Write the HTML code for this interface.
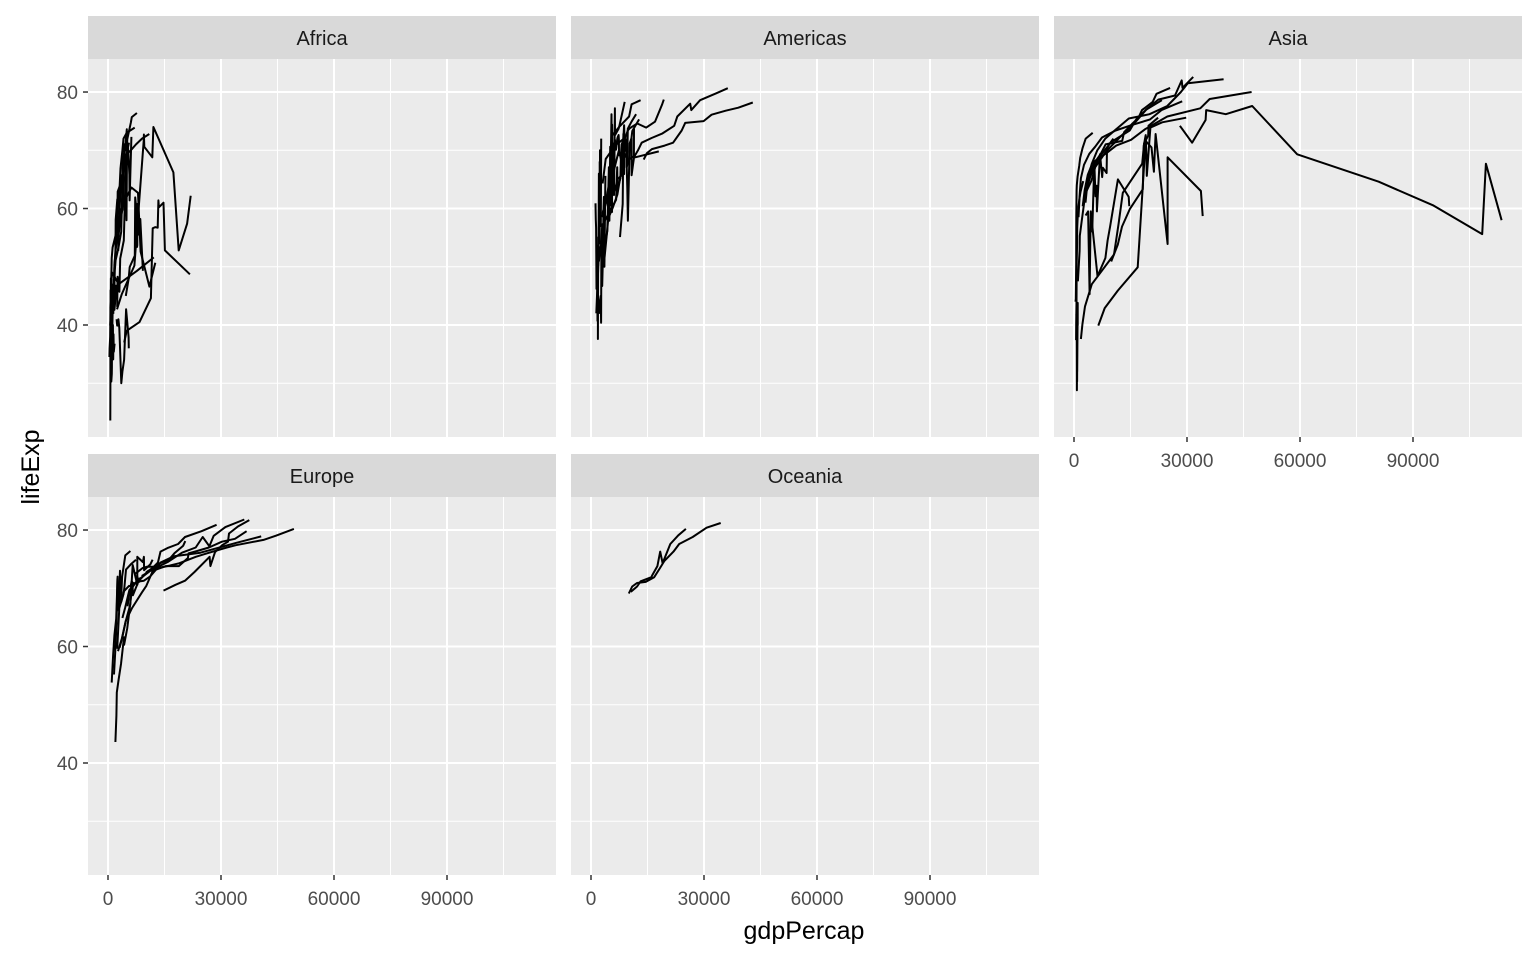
<!DOCTYPE html>
<html><head><meta charset="utf-8">
<style>
html,body{margin:0;padding:0;background:#fff;}
svg{display:block;font-family:"Liberation Sans",Arial,sans-serif;}
</style></head>
<body>
<svg id="chart" width="1536" height="960" viewBox="0 0 1536 960"></svg>
<script>
const years=[1952,1957,1962,1967,1972,1977,1982,1987,1992,1997,2002,2007];
const continents=["Africa","Americas","Asia","Europe","Oceania"];
const xTicks=[0,30000,60000,90000];
const xTickLabels=["0","30000","60000","90000"];
const yTicks=[40,60,80];
const yTickLabels=["40","60","80"];
const africaGdp=[
[2388,3668,6999,18773,21011,21951,17364,11770,9641,9467,9535,12057],
[4293,4977,8358,11401,21746,15113,11864,13522,13377,14723,12522,13206],
[4725,5487,5768,7115,7766,8028,8568,7826,7225,7479,7711,9270],
[851,918,984,1215,2264,3215,4551,6205,7954,8647,11004,12570],
[1968,2034,2529,2475,2576,3711,4110,4455,6058,7425,9022,10957],
[1468,1395,1661,1932,2149,2589,3108,3329,3822,4124,4960,7093],
[2719,2770,3174,4022,4022,4101,4991,5112,4983,6071,6316,7670],
[2449,3014,2551,3247,4183,4910,5745,5681,5023,4797,5288,6223],
[1419,1459,1693,1815,2024,2785,3504,3885,3795,4173,4755,5581],
[376,427,582,915,673,958,927,966,1132,2814,7703,12154],
[1077,1101,1151,1015,1698,1982,1577,1385,1620,1625,1615,2014],
[880,1004,1035,1384,1533,1749,1465,1295,1068,574,699,863],
[1688,1643,1566,1712,2057,2556,3056,3820,3554,3866,4218,4411],
[3521,3828,4269,5523,5473,3009,2757,2430,2628,2277,2773,4797],
[600,650,700,720,750,800,780,760,700,650,680,700]];
const africaLife=[
[42.7,45.3,50.2,52.8,57.4,62.2,66.2,68.8,70.6,71.6,72.7,74],
[37,39,40.5,44.6,48.7,52.8,56.6,60.2,61.4,61,56.8,56.7],
[45,48,49.95,51.9,53.7,55.5,58.2,60.8,61.9,60.2,53.4,49.3],
[47.6,49.6,51.5,53.3,56,59.3,61.5,63.6,62.7,52.6,46.6,50.7],
[51,58.1,60.2,61.6,62.9,64.9,66.7,69,70,71,72,72.8],
[44.6,47.1,49.6,52.1,55.6,59.8,64,66.9,70,72,73,73.9],
[52.7,55.1,57.7,60.5,64.3,67.1,69.9,71.9,73.6,74.8,75.7,76.4],
[43.1,45.7,48.3,51.4,54.5,58,61.4,65.8,67.7,69.2,71,72.3],
[41.9,44.4,47,49.3,51.1,53.3,56,59.8,63.7,66,68.8,71.3],
[34.5,36,38,40,42,44,46,48,49,47,49.3,51.6],
[36.3,37.8,39.4,41,42.6,44.5,45.8,46.9,47.5,47.5,46.6,46.9],
[30.3,31.6,32.8,34.1,35.4,36.8,38.4,40,38.3,39.9,41,42.6],
[42.9,45,47.9,50.3,52.9,55.7,59.6,62.7,65.7,67.7,69.6,71.2],
[30,32,34,36,37.9,39.5,39.9,39.9,40.6,41,41,42.7],
[23.6,30,35,38,42,45,47,48,46,43,44,45]];
const americasGdp=[
[13990,14847,16173,19530,21806,24073,25010,29884,32004,35767,39097,42952],
[11367,12490,13462,16077,18971,22091,22899,26627,26343,28955,33329,36319],
[3082,3908,5108,6929,9124,9770,10331,12282,14642,16999,18856,19329],
[3023,4101,4998,5622,8793,9748,11766,7555,7389,8793,11461,18009],
[7690,9803,8423,9646,10767,11152,11389,9384,10263,10766,8606,11416],
[5911,6857,7133,8053,9443,10079,8998,9140,9308,10967,8798,12779],
[3478,4132,4582,5755,7012,7675,9611,8688,9472,9767,10742,11978],
[1840,1726,1797,1452,1655,1874,2011,1823,1456,1342,1270,1202],
[2677,2128,2181,2587,2980,3548,3157,2754,2962,3326,3413,3822],
[2109,2487,3337,3430,4986,6660,7031,7807,6950,7958,8131,9066],
[3940,4316,4886,5107,5494,4757,5096,5547,7597,10118,10779,13172],
[2899,4756,5246,6125,7434,6650,6069,6351,7405,7122,6994,7321],
[5587,6093,5181,5691,5305,6381,7317,7533,5593,5432,6341,8948],
[1400,1600,1800,2000,2300,2600,2400,2200,2100,2300,2400,2700]];
const americasLife=[
[68.4,69.5,70.2,70.8,71.3,73.4,74.7,75,76.1,76.8,77.3,78.2],
[68.75,70,71.3,72.1,72.9,74.2,75.8,76.9,78,78.6,79.8,80.65],
[64.3,68.5,69.6,71.1,72.2,73.4,73.8,74.6,73.9,74.9,77.8,78.7],
[59.1,61.8,64.9,65.4,65.9,68.3,68.8,69.6,69.9,69.5,69,69.8],
[55.1,57.9,60.8,63.5,65.7,67.5,68.6,69.9,71.2,72.1,72.8,73.7],
[62.5,64.4,65.1,65.6,67.1,68.5,69.9,70.8,71.9,73.3,74.3,75.3],
[50.8,55.2,58.3,60.1,62.4,65,67.4,69.5,71.5,73.7,74.9,76.2],
[37.6,40.7,43.6,46.2,48,49.9,51.5,53.6,55.1,56.7,58.1,60.9],
[40.4,41.9,43.4,45,46.7,50,51.5,53.9,57.3,59.9,62,65.6],
[50.9,53.3,55.7,57.6,59.5,61.5,63.3,65.2,67.1,69.4,71,72.4],
[54.7,56.1,57.9,60.5,63.4,67.1,70.6,72.5,74.1,75.8,77.9,78.6],
[58.5,62.6,65.6,67.5,69,70.1,71.2,71.8,71.8,72.3,72,72.6],
[59.4,62.3,65.2,68.3,70.7,72.6,73.7,74.2,74.4,76.2,77.2,78.3],
[42,45,48,51,54,57,60,63,66,68,70,72]];
const asiaGdp=[
[108382,113523,95458,80895,109348,59265,31354,28118,34932,40301,35110,47307],
[6459,8157,11626,16903,24837,34168,33693,21199,24841,20586,19014,21655],
[9867,11636,12753,14805,18269,19340,19211,18524,19036,20292,23404,29796],
[3217,4318,6577,9847,14779,16610,19384,22376,26825,28817,28605,31656],
[2315,2844,3675,4977,8597,11210,15169,18862,24769,33519,36023,47143],
[3054,3629,4693,6198,8316,11187,14561,20038,24758,28378,30209,39725],
[4086,5385,7105,8393,12786,13306,15367,17122,18051,20897,21905,25523],
[1207,1507,1822,2643,4062,5597,7426,11054,15215,20206,23235,28718],
[1031,1487,1536,2029,3030,4657,5623,8533,12104,15993,19234,23348],
[400,576,488,613,677,741,962,1378,1656,2289,3119,4959],
[547,590,658,700,724,813,856,977,1164,1458,1747,2452],
[779,821,853,836,740,786,978,852,649,635,727,975],
[4130,6229,8342,8931,9576,14688,14517,11643,3745,3076,4391,4471],
[1828,2243,2925,4720,10618,11848,12955,18115,18616,19702,19775,22316],
[4834,6089,5714,6006,7487,8660,7641,5377,6891,8755,9313,10461]];
const asiaLife=[
[55.6,58,60.5,64.6,67.7,69.3,71.3,74.2,75.2,76.2,76.9,77.6],
[39.9,42.9,45.9,49.9,53.9,58.7,63,66.3,68.8,70.5,71.6,72.8],
[50.9,53.8,56.9,59.9,63.3,65.6,69.1,70.8,72.6,73.9,74.8,75.6],
[63,65.5,68.7,71.4,73.4,75.4,77.1,78.7,79.4,80.7,82,82.6],
[60.4,63.2,65.8,67.9,69.5,70.8,71.8,73.6,75.8,77.2,78.8,80],
[61,64.75,67.65,70,72,73.6,75.45,76.2,77.6,80,81.5,82.2],
[65.4,67.8,69.4,71,71.6,73.1,74.5,75.6,76.9,78.3,79.7,80.7],
[58.5,62.4,65.2,67.5,69.4,70.6,72.2,73.4,74.3,75.3,76.9,78.4],
[47.5,52.7,55.3,57.7,62.6,64.8,67.1,69.8,72.2,74.6,77,78.6],
[44,50.5,44.5,58.4,63.1,64,65.5,67.3,68.7,70.4,72,73],
[37.4,40.2,43.6,47.2,50.7,54.2,56.6,58.6,60.2,61.8,62.9,64.7],
[28.8,30.3,32,34,36.1,38.4,39.9,40.8,41.7,41.8,42.1,43.8],
[45.3,48.4,51.5,54.5,56.9,60.4,62,65,59.5,58.8,57,59.5],
[37.6,40.1,43.2,47,52.1,57.4,62.7,67.7,71.2,72.5,74.2,75.6],
[55.9,59.5,62.1,63.9,65.4,66.1,67,67.9,69.3,70.3,71,72]];
const europeGdp=[
[10095,11654,13450,16362,18965,23311,26299,31541,33966,41283,44684,49357],
[14734,17909,20431,22966,27195,26982,28398,30282,31871,32135,34481,37506],
[8942,11277,12791,15364,18795,21209,21399,23651,26791,30246,33725,36798],
[5210,5599,6632,7453,9531,11151,12618,13873,17559,24522,34077,40676],
[3068,3775,4727,6361,9022,10172,11754,13039,16207,17641,19971,20510],
[1969,2218,2323,2826,3450,4269,4241,5089,5678,6601,6508,8458],
[1601,1942,2313,2760,3313,3533,3631,3739,2497,3193,4604,5937],
[974,1354,1710,2172,2860,3528,4127,4314,2547,4766,6019,7446],
[7268,9244,10350,13320,15798,19655,23270,26923,25144,28061,31163,36181],
[3834,4565,5694,7994,10639,13237,13926,15765,18603,20446,24835,28821],
[2444,3009,4255,5578,6598,7612,8225,8240,6303,5970,7697,10681],
[2648,3683,4650,5907,7779,9596,11233,11837,7783,9531,6557,9254]];
const europeLife=[
[72.7,73.4,73.5,73.9,74.3,75.4,76,77,77.4,78.3,79.05,80.2],
[69.6,70.6,71.3,72.8,73.8,75.4,76.2,77.4,78,79.4,80.6,81.7],
[72.1,73,73.2,73.8,73.8,75.2,76,76.4,77,78,78.5,79.8],
[66.9,68.9,70.3,71.1,71.3,72,73.1,74.4,75.5,76.1,77.8,78.9],
[59.8,61.5,64.4,66.6,69.3,70.4,72.8,74.1,74.9,76,77.3,78.1],
[43.6,48.1,52.1,54.3,57,60.3,61.6,63.1,66.1,68.8,70.8,71.8],
[55.2,59.3,64.8,66.2,67.7,68.9,70.4,72,71.6,73,75.65,76.4],
[53.8,58.45,61.9,64.8,66.7,67.7,69,70,72,73.2,74.1,74.9],
[72.5,73.5,73.7,73.7,74.5,76.1,77,77.2,78.8,79,80.5,81.8],
[64.9,66.7,69.7,71.4,72.7,74.4,76.3,76.9,77.6,78.8,79.8,80.9],
[59.6,66.6,69.5,70.4,70.9,70.8,71.1,71.3,71.2,70.3,72.1,73],
[59.2,61.4,64.2,67.2,70.6,73.1,74.1,74.9,75.4,75.4,74,74.5]];
const oceaniaGdp=[
[10040,10950,12217,14526,16789,18334,19477,21889,23425,26998,30688,34435],
[10557,12247,13176,14464,16046,16234,17632,19007,18363,21050,23189,25185]];
const oceaniaLife=[
[69.1,70.3,70.9,71.1,71.9,73.5,74.7,76.3,77.6,78.8,80.4,81.2],
[69.4,70.3,71.2,71.5,71.9,72.2,73.8,74.3,76.3,77.6,79.1,80.2]];
const gdpSets=[africaGdp,americasGdp,asiaGdp,europeGdp,oceaniaGdp];
const lifeSets=[africaLife,americasLife,asiaLife,europeLife,oceaniaLife];

const NS="http://www.w3.org/2000/svg";
const svg=document.getElementById('chart');
function mk(tag,attrs,parent){const e=document.createElementNS(NS,tag);for(const k in attrs)e.setAttribute(k,attrs[k]);(parent||svg).appendChild(e);return e;}
const panelW=468, stripH=43, plotH=378;
const panelX=[88,571,1054];
const rowY=[16,454];
const xMin=-5310, xMax=118937, yMin=20.77, yMax=85.67;
function xs(v,px){return px+(v-xMin)/(xMax-xMin)*panelW;}
function ys(v,py){return py+plotH-(v-yMin)/(yMax-yMin)*plotH;}

continents.forEach((c,i)=>{
  const col=i%3,row=Math.floor(i/3);
  const px=panelX[col], sy=rowY[row], py=sy+stripH;
  const g=mk('g',{});
  
  
  const strip=mk('rect',{x:px,y:sy,width:panelW,height:stripH,fill:'#d9d9d9'},g);
  
  
  const st=mk('text',{x:px+panelW/2,y:sy+29,'text-anchor':'middle','font-size':'20',fill:'#1a1a1a'},g);
  st.textContent=c;
  
  
  const bg=mk('rect',{x:px,y:py,width:panelW,height:plotH,fill:'#ebebeb'},g);
  
  
  [15000,45000,75000,105000].forEach(v=>mk('line',{x1:xs(v,px),x2:xs(v,px),y1:py,y2:py+plotH,stroke:'#fff','stroke-width':1},g));
  [30,50,70].forEach(v=>mk('line',{x1:px,x2:px+panelW,y1:ys(v,py),y2:ys(v,py),stroke:'#fff','stroke-width':1},g));
  xTicks.forEach(v=>mk('line',{x1:xs(v,px),x2:xs(v,px),y1:py,y2:py+plotH,stroke:'#fff','stroke-width':2},g));
  yTicks.forEach(v=>mk('line',{x1:px,x2:px+panelW,y1:ys(v,py),y2:ys(v,py),stroke:'#fff','stroke-width':2},g));
  gdpSets[i].forEach((gs,k)=>{
    const ls=lifeSets[i][k];
    const pairs=gs.map((v,j)=>[v,ls[j]]).sort((a,b)=>a[0]-b[0]);
    const pts=pairs.map(p=>xs(p[0],px).toFixed(1)+','+ys(p[1],py).toFixed(1)).join(' ');
    const pl=mk('polyline',{points:pts,fill:'none',stroke:'#000','stroke-width':2,'stroke-linejoin':'round'},g);
    
    
  });
  if(col===0){
    yTicks.forEach((v,k)=>{
      mk('line',{x1:px-5,x2:px,y1:ys(v,py),y2:ys(v,py),stroke:'#333','stroke-width':1.5},g);
      const t=mk('text',{x:px-10,y:ys(v,py)+7,'text-anchor':'end','font-size':'19',fill:'#4d4d4d'},g);
      t.textContent=yTickLabels[k];
      
      
    });
  }
  const isBottom = row===1 || i===2;
  if(isBottom){
    xTicks.forEach((v,k)=>{
      mk('line',{x1:xs(v,px),x2:xs(v,px),y1:py+plotH,y2:py+plotH+5,stroke:'#333','stroke-width':1.5},g);
      const t=mk('text',{x:xs(v,px),y:py+plotH+30,'text-anchor':'middle','font-size':'19',fill:'#4d4d4d'},g);
      t.textContent=xTickLabels[k];
      
      
    });
  }
});
const xt=mk('text',{x:804,y:939,'text-anchor':'middle','font-size':'25',fill:'#000'});
xt.textContent='gdpPercap';


const yt=mk('text',{x:0,y:0,'text-anchor':'middle','font-size':'25',fill:'#000',transform:'translate(39,467) rotate(-90)'});
yt.textContent='lifeExp';


</script>
</body></html>
